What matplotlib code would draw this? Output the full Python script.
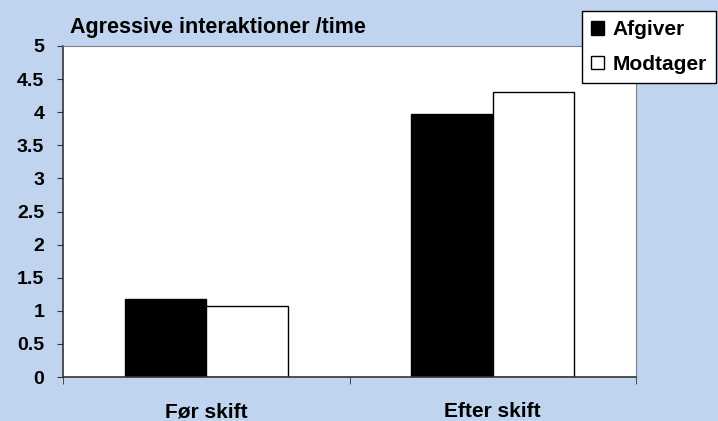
# Agressive interaktioner per time, before/after shift change

import matplotlib.pyplot as plt
import numpy as np

# Data
categories = ['Før skift', 'Efter skift']
afgiver = [1.18, 3.97]
modtager = [1.07, 4.30]
series_names = ['Afgiver', 'Modtager']
yticks = [0, 0.5, 1, 1.5, 2, 2.5, 3, 3.5, 4, 4.5, 5]

plt.rcParams['font.family'] = ['Liberation Sans', 'DejaVu Sans']
plt.rcParams['font.weight'] = 'bold'

bg = '#C0D4F0'
fig = plt.figure(figsize=(7.18, 4.21), dpi=100, facecolor=bg)
ax = fig.add_axes([63 / 718, 1 - 377 / 421, (636 - 63) / 718, (377 - 46) / 421])
ax.set_facecolor('white')

x = np.arange(len(categories))
w = 0.285
ax.bar(x - w / 2, afgiver, w, color='black', edgecolor='black', linewidth=1, label=series_names[0])
ax.bar(x + w / 2, modtager, w, color='white', edgecolor='black', linewidth=1, label=series_names[1])

ax.set_xlim(-0.5, 1.5)
ax.set_ylim(0, 5)
ax.set_yticks(yticks)
ax.set_yticklabels([f'{v:g}' for v in yticks], fontsize=14, fontweight='bold')
ax.set_xticks(x)
ax.set_xticklabels(categories, fontsize=15, fontweight='bold')
ax.tick_params(axis='x', length=0, pad=18)
ax.set_xticks([-0.5, 0.5, 1.5], minor=True)
ax.tick_params(axis='x', which='minor', length=5, direction='out', color='#333333')
ax.tick_params(axis='y', length=4.5, direction='out', color='#333333', pad=9)

for s in ['top', 'right']:
    ax.spines[s].set_color('#808080')
for s in ['left', 'bottom']:
    ax.spines[s].set_color('#333333')
    ax.spines[s].set_linewidth(1.2)

fig.text(70 / 718, 1 - 28 / 421, 'Agressive interaktioner /time', fontsize=15.5,
         fontweight='bold', va='center', ha='left')

leg = fig.legend(loc='upper left', bbox_to_anchor=(582 / 718, 1 - 11 / 421),
                 fontsize=15, frameon=True, fancybox=False, edgecolor='black',
                 framealpha=1, handlelength=0.6, handleheight=0.6, handletextpad=0.4,
                 labelspacing=0.75, borderaxespad=0, borderpad=0.45)
leg.get_frame().set_linewidth(1)
leg.get_frame().set_facecolor('white')

plt.savefig('out.png', dpi=100, facecolor=bg)
